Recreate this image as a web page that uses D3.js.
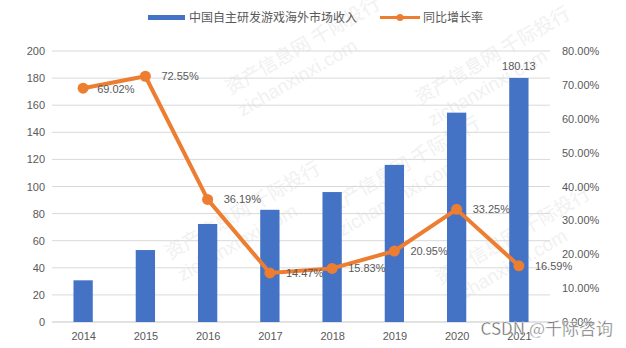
<!DOCTYPE html>
<html>
<head>
<meta charset="utf-8">
<script src="https://cdn.jsdelivr.net/npm/d3@7"></script>
<style>
  html, body { margin: 0; padding: 0; background: #fff; }
  svg { display: block; font-family: "Noto Sans CJK SC", "Liberation Sans", sans-serif; }
</style>
</head>
<body>
<svg id="chart" width="626" height="348"></svg>
<script>
// Chart data
const years = ["2014", "2015", "2016", "2017", "2018", "2019", "2020", "2021"];
const revenue = [30.76, 53.1, 72.35, 82.8, 95.9, 115.95, 154.5, 180.13];
const growth = [69.02, 72.55, 36.19, 14.47, 15.83, 20.95, 33.25, 16.59];
const leftTicks = [0, 20, 40, 60, 80, 100, 120, 140, 160, 180, 200];
const rightTicks = [0, 10, 20, 30, 40, 50, 60, 70, 80];
const seriesNames = ["中国自主研发游戏海外市场收入", "同比增长率"];

const svg = d3.select("#chart");
const m = { left: 52, right: 550, top: 51, bottom: 322 };
const blue = "#4472C4", orange = "#ED7D31", textGray = "#595959", grid = "#d9d9d9";

const x = d3.scaleBand().domain(years).range([m.left, m.right]).paddingInner(0.69).paddingOuter(0.345);
const xc = d3.scalePoint().domain(years).range([m.left, m.right]).padding(0.5);
const yL = d3.scaleLinear().domain([0, 200]).range([m.bottom, m.top]);
const yR = d3.scaleLinear().domain([0, 80]).range([m.bottom, m.top]);

// Faint background watermarks
const wm = svg.append("g").attr("fill", "#f1f1f1").attr("font-size", 19);
[[230, 95], [420, 105], [170, 260], [330, 215], [440, 285]].forEach(([wx, wy]) => {
  const g = wm.append("g").attr("transform", `translate(${wx},${wy}) rotate(-30)`);
  g.append("text").text("资产信息网 千际投行");
  g.append("text").attr("y", 25).attr("font-family", "Liberation Sans").text("zichanxinxi.com");
});

// Horizontal gridlines
svg.append("g").selectAll("line").data(leftTicks.slice(1)).join("line")
  .attr("x1", m.left).attr("x2", m.right)
  .attr("y1", d => yL(d)).attr("y2", d => yL(d))
  .attr("stroke", grid).attr("stroke-width", 1);

// Left axis
const axL = svg.append("g").attr("transform", `translate(${m.left - 7},0)`)
  .call(d3.axisLeft(yL).tickValues(leftTicks).tickSize(0).tickPadding(0));
axL.select(".domain").remove();
axL.selectAll("text").attr("fill", textGray).attr("font-size", 11).attr("font-family", "Liberation Sans");

// Right axis
const axR = svg.append("g").attr("transform", `translate(${m.right + 12},0)`)
  .call(d3.axisRight(yR).tickValues(rightTicks).tickSize(0).tickPadding(0).tickFormat(d => d.toFixed(2) + "%"));
axR.select(".domain").remove();
axR.selectAll("text").attr("fill", textGray).attr("font-size", 11).attr("font-family", "Liberation Sans");

// Bottom axis
const axB = svg.append("g").attr("transform", `translate(0,${m.bottom})`)
  .call(d3.axisBottom(xc).tickSize(0).tickPadding(10));
axB.select(".domain").attr("stroke", grid).attr("stroke-width", 1.5).attr("d", `M${m.left},0H${m.right}`);
axB.selectAll("text").attr("fill", textGray).attr("font-size", 11).attr("font-family", "Liberation Sans");

// Bars
svg.append("g").selectAll("rect").data(years).join("rect")
  .attr("x", d => x(d)).attr("width", x.bandwidth())
  .attr("y", (d, i) => yL(revenue[i])).attr("height", (d, i) => yL(0) - yL(revenue[i]))
  .attr("fill", blue);

// Value label on the last bar
const lastI = years.length - 1;
svg.append("text").attr("x", xc(years[lastI])).attr("y", yL(revenue[lastI]) - 8)
  .attr("text-anchor", "middle").attr("fill", textGray).attr("font-size", 11)
  .attr("font-family", "Liberation Sans").text(revenue[lastI].toFixed(2));

// Growth line
const line = d3.line().x((d, i) => xc(years[i])).y(d => yR(d));
svg.append("path").datum(growth).attr("d", line)
  .attr("fill", "none").attr("stroke", orange).attr("stroke-width", 4).attr("stroke-linejoin", "round");
svg.append("g").selectAll("circle").data(growth).join("circle")
  .attr("cx", (d, i) => xc(years[i])).attr("cy", d => yR(d)).attr("r", 5.5).attr("fill", orange);
svg.append("g").selectAll("text").data(growth).join("text")
  .attr("x", (d, i) => xc(years[i]) + (i === 0 ? 14 : 16))
  .attr("y", (d, i) => yR(d) + (i === 0 ? 5 : 4))
  .attr("fill", textGray).attr("font-size", 11).attr("font-family", "Liberation Sans")
  .text(d => d.toFixed(2) + "%");

// Legend
const lg = svg.append("g").attr("font-size", 12).attr("fill", textGray);
lg.append("rect").attr("x", 148).attr("y", 15).attr("width", 37).attr("height", 5).attr("fill", blue);
lg.append("text").attr("x", 189).attr("y", 22).text(seriesNames[0]);
lg.append("line").attr("x1", 380).attr("x2", 420).attr("y1", 17.5).attr("y2", 17.5)
  .attr("stroke", orange).attr("stroke-width", 3);
lg.append("circle").attr("cx", 400).attr("cy", 17.5).attr("r", 3.5).attr("fill", orange);
lg.append("text").attr("x", 423).attr("y", 22).text(seriesNames[1]);

// Publisher mark
svg.append("text").attr("x", 613).attr("y", 335).attr("text-anchor", "end")
  .attr("font-size", 17).attr("fill", "#666").attr("stroke", "#fff").attr("stroke-width", 0.4)
  .text("CSDN @千际咨询");
</script>
</body>
</html>
